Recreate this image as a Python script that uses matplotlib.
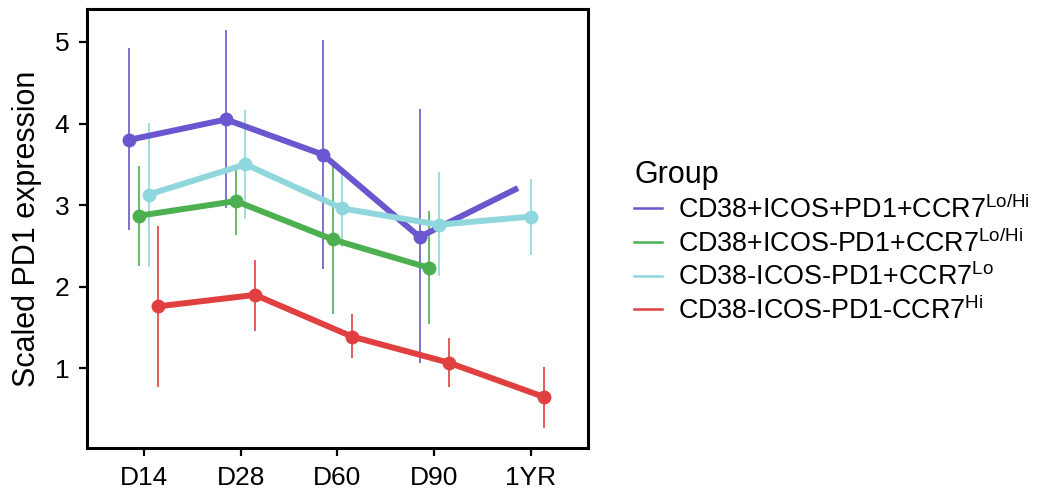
import numpy as np
import matplotlib
matplotlib.use('Agg')
import matplotlib.pyplot as plt
from matplotlib.lines import Line2D

plt.rcParams['font.family'] = ['Liberation Sans', 'DejaVu Sans']
plt.rcParams['mathtext.fontset'] = 'custom'
plt.rcParams['mathtext.rm'] = 'Liberation Sans'
plt.rcParams['mathtext.it'] = 'Liberation Sans:italic'

# time points
timepoints = ['D14', 'D28', 'D60', 'D90', '1YR']

groups = [r'CD38+ICOS+PD1+CCR7$^{\mathrm{Lo/Hi}}$',
          r'CD38+ICOS-PD1+CCR7$^{\mathrm{Lo/Hi}}$',
          r'CD38-ICOS-PD1+CCR7$^{\mathrm{Lo}}$',
          r'CD38-ICOS-PD1-CCR7$^{\mathrm{Hi}}$']
colors = ['#6a57cf', '#4caf50', '#8fd7dd', '#e0403f']

nan = np.nan
# mean and error range per group
purple_mean = [3.80, 4.05, 3.62, 2.61, 3.21]
purple_lo = [2.69, 2.97, 2.22, 1.07, nan]
purple_hi = [4.92, 5.15, 5.03, 4.18, nan]

green_mean = [2.87, 3.05, 2.58, 2.23, nan]
green_lo = [2.26, 2.63, 1.67, 1.54, nan]
green_hi = [3.48, 3.46, 3.49, 2.93, nan]

cyan_mean = [3.13, 3.50, 2.96, 2.76, 2.86]
cyan_lo = [2.24, 2.83, 2.49, 2.13, 2.39]
cyan_hi = [4.01, 4.17, 3.39, 3.41, 3.32]

red_mean = [1.76, 1.90, 1.39, 1.07, 0.65]
red_lo = [0.77, 1.46, 1.13, 0.77, 0.27]
red_hi = [2.74, 2.33, 1.67, 1.37, 1.02]

# purple point at 1YR has no marker in the original
purple_marked = [True, True, True, True, False]

means = [purple_mean, green_mean, cyan_mean, red_mean]
los = [purple_lo, green_lo, cyan_lo, red_lo]
his = [purple_hi, green_hi, cyan_hi, red_hi]
marked = [purple_marked, None, None, None]

# dodge like ggplot position_dodge(width=0.4)
dodge_w = 0.4
means_arr = np.array(means, dtype=float)
offsets = np.zeros_like(means_arr)
for j in range(len(timepoints)):
    present = np.where(~np.isnan(means_arr[:, j]))[0]
    n = len(present)
    for k, i in enumerate(present):
        offsets[i, j] = (k - (n - 1) / 2) * dodge_w / n

fig = plt.figure(figsize=(10.42, 4.98), dpi=100)
ax = fig.add_axes([0.0832, 0.0998, 0.5643 - 0.0832, 0.9813 - 0.0998])

x = np.arange(1, len(timepoints) + 1)
for i in range(len(groups)):
    xs = x + offsets[i]
    m = np.array(means[i], dtype=float)
    lo = np.array(los[i], dtype=float)
    hi = np.array(his[i], dtype=float)
    ok = ~np.isnan(lo)
    ax.vlines(xs[ok], lo[ok], hi[ok], color=colors[i], lw=1.2, zorder=1)
    ax.plot(xs, m, color=colors[i], lw=4.3, solid_capstyle='butt',
            solid_joinstyle='round', zorder=2)
    mk = ok & ~np.isnan(m)
    if marked[i] is not None:
        mk = mk & np.array(marked[i])
    ax.plot(xs[mk], m[mk], 'o', color=colors[i], ms=10, mew=0, zorder=3)

ax.set_xlim(0.41, 5.59)
ax.set_ylim(0.02, 5.4)
ax.set_xticks(x)
ax.set_xticklabels(timepoints)
ax.set_yticks([1, 2, 3, 4, 5])
ax.tick_params(axis='both', direction='out', length=5.5, width=1.6,
               labelsize=19, color='black')
ax.tick_params(axis='x', pad=7)
ax.tick_params(axis='y', pad=7)
for s in ax.spines.values():
    s.set_linewidth(2.2)
ax.set_ylabel('Scaled PD1 expression', fontsize=22, labelpad=9)

handles = [Line2D([0], [0], color=c, lw=1.8) for c in colors]
fig.legend(handles, groups, loc='upper left',
           bbox_to_anchor=(634 / 1042, 1 - 160 / 498),
           frameon=False, title='Group', title_fontsize=22, fontsize=19.4,
           handlelength=1.05, handletextpad=0.6, labelspacing=0.2,
           borderpad=0, borderaxespad=0, alignment='left')

fig.savefig('out.png', dpi=100)
